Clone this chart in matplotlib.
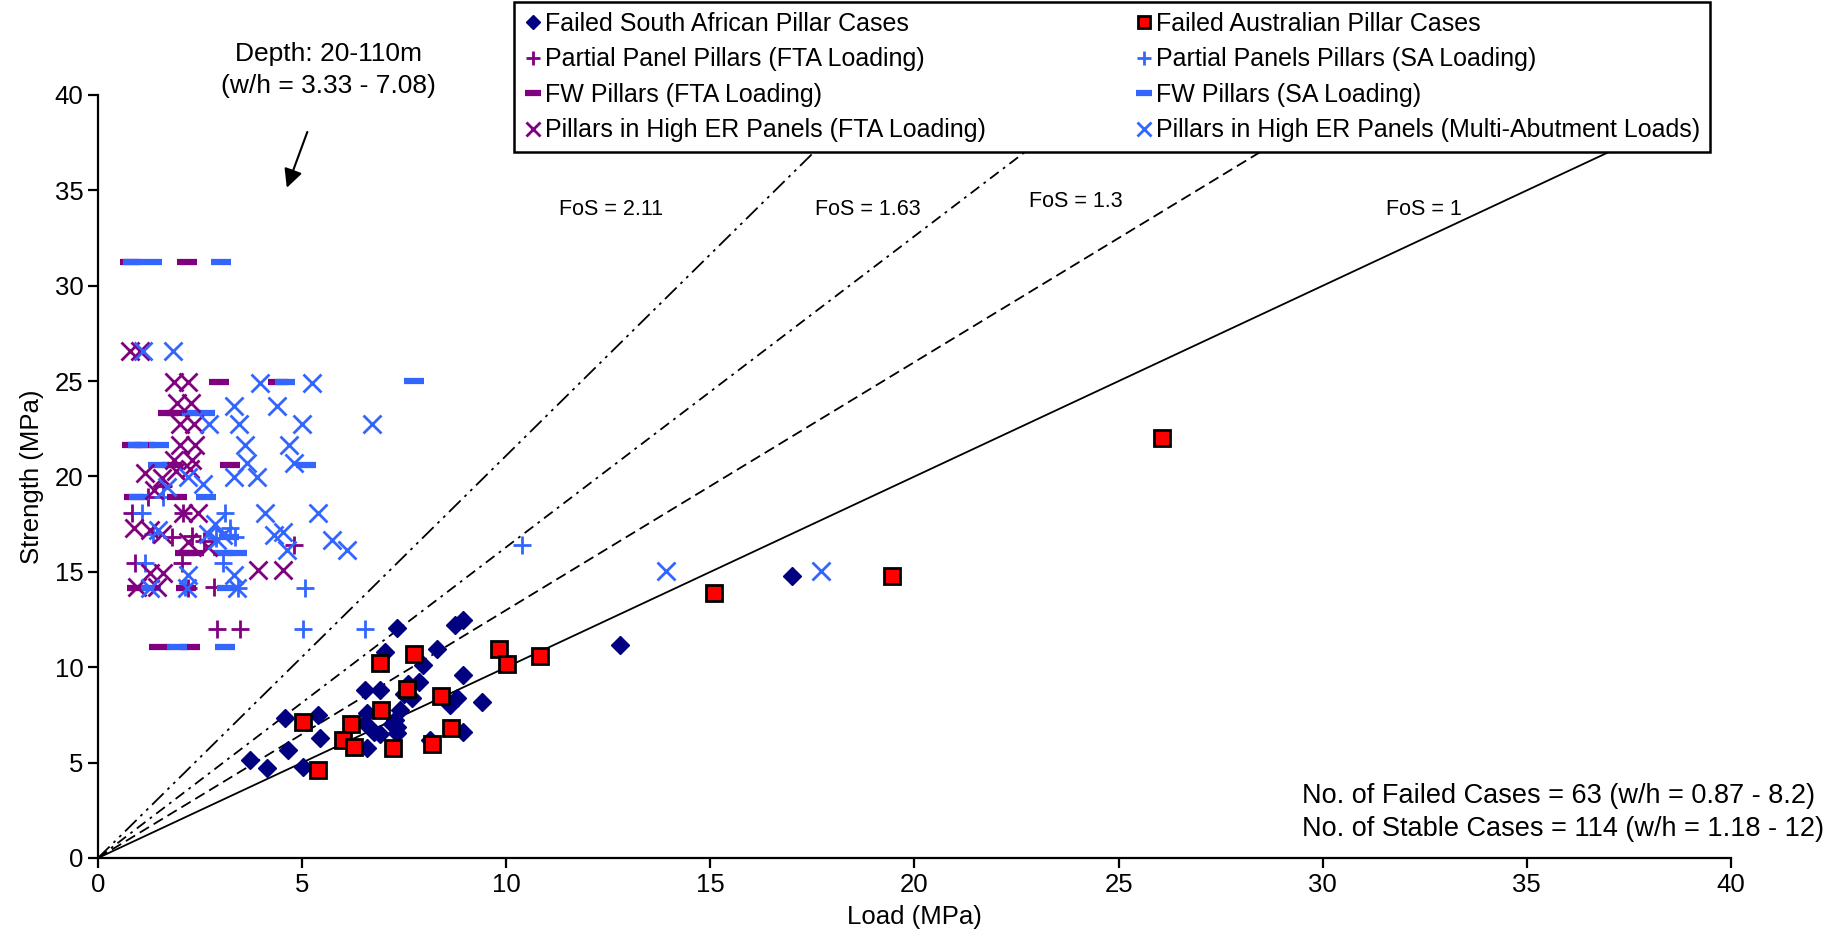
import numpy as np
import matplotlib.pyplot as plt

plt.rcParams['font.family'] = ['Liberation Sans', 'DejaVu Sans']

# Failed cases
sa_x = [7.32, 8.75, 8.95, 7.03, 8.3, 7.97, 8.95, 6.54, 6.91, 7.85, 7.69, 8.79, 8.63, 9.4,
        4.58, 5.4, 6.58, 7.4, 7.28, 7.32, 7.32, 6.75, 6.54, 5.44, 4.66, 6.58, 8.95, 8.14,
        3.73, 4.13, 5.03, 12.79, 17.0, 7.2, 7.5, 6.9, 7.6]
sa_y = [12.04, 12.2, 12.5, 10.81, 10.98, 10.12, 9.59, 8.8, 8.8, 9.24, 8.37, 8.37, 8.02, 8.19,
        7.32, 7.49, 7.58, 7.76, 7.23, 6.88, 6.53, 6.62, 7.06, 6.27, 5.66, 5.75, 6.62, 6.18,
        5.14, 4.7, 4.78, 11.16, 14.78, 7.0, 8.6, 6.5, 9.1]

aus_x = [5.03, 6.91, 7.73, 9.81, 10.02, 10.83, 7.57, 8.41, 6.94, 6.2, 6.01, 6.26, 7.22,
         8.64, 8.18, 5.4, 15.08, 19.45, 26.07]
aus_y = [7.14, 10.2, 10.69, 10.94, 10.15, 10.59, 8.84, 8.49, 7.76, 7.02, 6.18, 5.83, 5.75,
         6.84, 5.97, 4.61, 13.9, 14.78, 22.0]

# Stable cases
ppf_x = [0.84, 1.23, 2.09, 1.8, 2.3, 2.6, 0.91, 2.05, 2.83, 2.91, 3.48, 4.79, 1.6, 2.2]
ppf_y = [18.07, 18.94, 18.07, 16.84, 16.9, 16.6, 15.44, 15.44, 14.2, 12.0, 12.0, 16.4, 19.5, 14.13]

pps_x = [1.07, 1.6, 1.15, 3.11, 3.24, 3.36, 3.07, 3.44, 5.07, 5.03, 6.54, 10.38, 2.13, 2.9, 1.35]
pps_y = [18.07, 18.94, 15.44, 18.07, 17.28, 16.84, 15.44, 14.13, 14.13, 12.0, 12.0, 16.4, 14.2, 16.8, 17.0]

fwf_x = [0.78, 2.19, 2.97, 4.4, 1.71, 1.93, 0.83, 1.15, 1.8, 3.24, 0.87, 1.94, 2.13, 2.35,
         0.96, 2.16, 1.5, 2.25]
fwf_y = [31.27, 31.27, 24.96, 24.96, 23.34, 23.34, 21.65, 21.65, 20.62, 20.62, 18.94, 18.94,
         15.97, 15.97, 14.13, 14.13, 11.07, 11.07]

fws_x = [0.85, 1.32, 3.0, 4.57, 7.75, 2.3, 2.62, 0.97, 1.5, 1.46, 5.1, 1.01, 2.64, 3.07, 3.4,
         3.15, 1.94, 3.1, 3.2, 1.3]
fws_y = [31.27, 31.27, 31.27, 24.96, 24.98, 23.34, 23.34, 21.65, 21.65, 20.62, 20.62, 18.94,
         18.94, 15.97, 15.97, 14.13, 11.07, 11.07, 16.84, 14.13]

erf_x = [0.78, 1.02, 1.85, 2.21, 1.93, 2.28, 2.01, 2.34, 2.01, 2.37, 1.85, 2.3, 1.15, 1.56,
         1.36, 0.87, 1.27, 2.09, 2.45, 1.56, 2.21, 2.7, 0.95, 1.44, 1.27, 1.6, 3.93, 4.53, 1.91, 2.25]
erf_y = [26.6, 26.6, 24.96, 24.96, 23.83, 23.83, 22.75, 22.75, 21.65, 21.65, 20.86, 20.86, 20.16,
         19.9, 19.3, 17.3, 17.19, 18.07, 18.07, 17.0, 16.58, 16.32, 14.2, 14.2, 14.92, 14.92,
         15.09, 15.09, 20.3, 20.4]

ers_x = [1.11, 1.84, 3.97, 5.25, 3.34, 4.38, 2.73, 3.46, 4.99, 6.71, 3.59, 4.68, 3.64, 4.8,
         3.32, 3.89, 2.21, 2.58, 1.68, 1.48, 2.7, 2.91, 4.09, 5.4, 4.3, 4.54, 4.62, 5.73, 6.1,
         2.87, 3.07, 3.32, 3.4, 2.2, 2.17, 1.27, 13.91, 17.72]
ers_y = [26.6, 26.6, 24.9, 24.9, 23.7, 23.7, 22.75, 22.75, 22.75, 22.75, 21.65, 21.65, 20.7,
         20.7, 19.98, 19.98, 19.98, 19.6, 19.46, 17.19, 17.0, 16.67, 18.07, 18.07, 16.93, 17.1,
         16.14, 16.67, 16.14, 17.53, 16.93, 14.83, 14.13, 14.83, 14.13, 14.13, 15.06, 15.06]

fos_values = [1, 1.3, 1.63, 2.11]
fos_styles = ['-', (0, (6, 3)), (0, (6, 3, 1.5, 3)), (0, (9, 3, 1.5, 3, 1.5, 3))]
fos_labels = ['FoS = 1', 'FoS = 1.3', 'FoS = 1.63', 'FoS = 2.11']
fos_label_pos = [(31.55, 34.0), (22.8, 34.4), (17.56, 34.0), (11.3, 34.0)]

purple = '#800080'
blue = '#3366FF'
navy = '#000080'

fig = plt.figure(figsize=(18.43, 9.49), dpi=100)
ax = fig.add_axes([0.0532, 0.0959, 0.886, 0.804])

# FoS lines
for fos, ls, lab, pos in zip(fos_values, fos_styles, fos_labels, fos_label_pos):
    xs = np.array([0, 38.0 / fos])
    ax.plot(xs, xs * fos, color='black', linestyle=ls, linewidth=1.3, zorder=2)
    ax.text(pos[0], pos[1], lab, fontsize=15.5, ha='left', va='center')

h_sa, = ax.plot(sa_x, sa_y, linestyle='none', marker='D', markersize=9, color=navy, mec=navy,
                label='Failed South African Pillar Cases', zorder=3)
h_aus, = ax.plot(aus_x, aus_y, linestyle='none', marker='s', markersize=11, mfc='#FF0000',
                 mec='black', mew=2, label='Failed Australian Pillar Cases', zorder=4)
h_ppf, = ax.plot(ppf_x, ppf_y, linestyle='none', marker='+', markersize=13, mew=2, color=purple,
                 label='Partial Panel Pillars (FTA Loading)', zorder=3)
h_pps, = ax.plot(pps_x, pps_y, linestyle='none', marker='+', markersize=13, mew=2, color=blue,
                 label='Partial Panels Pillars (SA Loading)', zorder=3)
h_fwf, = ax.plot(fwf_x, fwf_y, linestyle='none', marker='_', markersize=14, mew=4.5, color=purple,
                 label='FW Pillars (FTA Loading)', zorder=3)
h_fws, = ax.plot(fws_x, fws_y, linestyle='none', marker='_', markersize=14, mew=4.5, color=blue,
                 label='FW Pillars (SA Loading)', zorder=3)
h_erf, = ax.plot(erf_x, erf_y, linestyle='none', marker='x', markersize=13, mew=2, color=purple,
                 label='Pillars in High ER Panels (FTA Loading)', zorder=3)
h_ers, = ax.plot(ers_x, ers_y, linestyle='none', marker='x', markersize=13, mew=2, color=blue,
                 label='Pillars in High ER Panels (Multi-Abutment Loads)', zorder=3)

ax.set_xlim(0, 40)
ax.set_ylim(0, 40)
ax.set_xticks(np.arange(0, 41, 5))
ax.set_yticks(np.arange(0, 41, 5))
ax.spines['top'].set_visible(False)
ax.spines['right'].set_visible(False)
ax.spines['left'].set_linewidth(1.6)
ax.spines['bottom'].set_linewidth(1.6)
ax.tick_params(direction='out', length=7, width=1.6, labelsize=18.5)
ax.set_xlabel('Load (MPa)', fontsize=18.5, labelpad=6)
ax.set_ylabel('Strength (MPa)', fontsize=18.5, labelpad=8)

# legend is filled column by column, so order the handles to read row by row
handles = [h_sa, h_ppf, h_fwf, h_erf, h_aus, h_pps, h_fws, h_ers]
leg = ax.legend(handles=handles, ncol=2, loc='upper left',
                bbox_to_anchor=(0.255, 1.122, 0.732, 0.0),
                mode='expand', borderaxespad=0, fontsize=18, frameon=True, fancybox=False,
                edgecolor='black', framealpha=1, handlelength=0.7, handletextpad=0.12,
                labelspacing=0.46, borderpad=0.4, markerscale=0.8, numpoints=1)
leg.get_frame().set_linewidth(1.8)
leg.set_zorder(10)

ax.text(5.65, 41.3, 'Depth: 20-110m\n(w/h = 3.33 - 7.08)', fontsize=19, ha='center',
        va='center', multialignment='center', linespacing=1.45, clip_on=False)
ax.annotate('', xy=(4.6, 35.0), xytext=(5.15, 38.2),
            arrowprops=dict(arrowstyle='-|>', color='black', lw=1.5, mutation_scale=28))

ax.text(29.49, 3.26, 'No. of Failed Cases = 63 (w/h = 0.87 - 8.2)', fontsize=19.5,
        ha='left', va='center', clip_on=False)
ax.text(29.49, 1.53, 'No. of Stable Cases = 114 (w/h = 1.18 - 12)', fontsize=19.5,
        ha='left', va='center', clip_on=False)

fig.savefig('out.png', dpi=100)
